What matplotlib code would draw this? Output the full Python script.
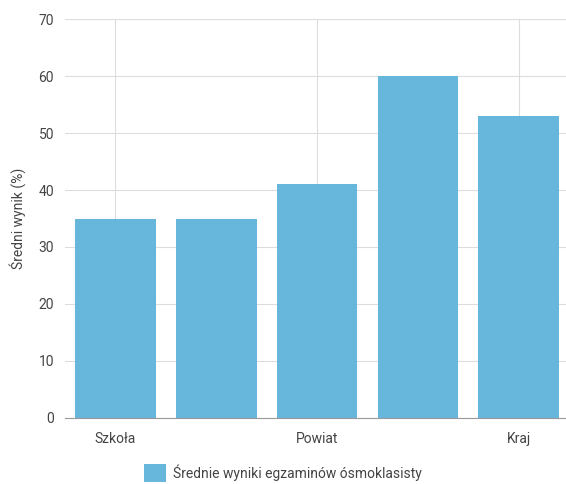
import matplotlib.pyplot as plt
from matplotlib.patches import Patch

plt.rcParams['font.family'] = ['Roboto', 'DejaVu Sans']

# data
categories = ['Szkoła', '', 'Powiat', '', 'Kraj']
values = [35, 35, 41, 60, 53]
series_name = 'Średnie wyniki egzaminów ósmoklasisty'
y_label = 'Średni wynik (%)'

bar_color = '#67b6dc'
grid_color = '#dddddd'
text_color = '#444444'

fig = plt.figure(figsize=(5.66, 4.84), dpi=100)
ax = fig.add_axes([0.115, 0.1364, 0.885, 0.8243])

x = list(range(len(values)))
ax.bar(x, values, width=0.8, color=bar_color, zorder=3)

ax.set_xlim(-0.5, 4.47)
ax.set_ylim(0, 70)
ax.set_yticks(range(0, 71, 10))
ax.set_xticks([0, 2, 4])
ax.set_xticklabels([categories[i] for i in (0, 2, 4)])

ax.grid(True, color=grid_color, linewidth=0.8, zorder=0)
for s in ['top', 'right', 'left']:
    ax.spines[s].set_visible(False)
ax.spines['bottom'].set_color('#999999')
ax.spines['bottom'].set_linewidth(0.8)
ax.spines['bottom'].set_zorder(4)

ax.tick_params(axis='both', length=0, labelsize=10, colors=text_color)
ax.tick_params(axis='x', pad=10)
ax.tick_params(axis='y', pad=8)

fig.text(18 / 566, 1 - 218 / 484, y_label, rotation=90, ha='center', va='center',
         fontsize=10, color=text_color)

handle = Patch(facecolor=bar_color, edgecolor='none')
fig.legend([handle], [series_name], loc='center', bbox_to_anchor=(0.5, 1 - 473 / 484),
           frameon=False, fontsize=10, handlelength=1.6, handleheight=1.6,
           handletextpad=0.5, labelcolor=text_color, borderpad=0)

fig.savefig('out.png', dpi=100, facecolor='white')
